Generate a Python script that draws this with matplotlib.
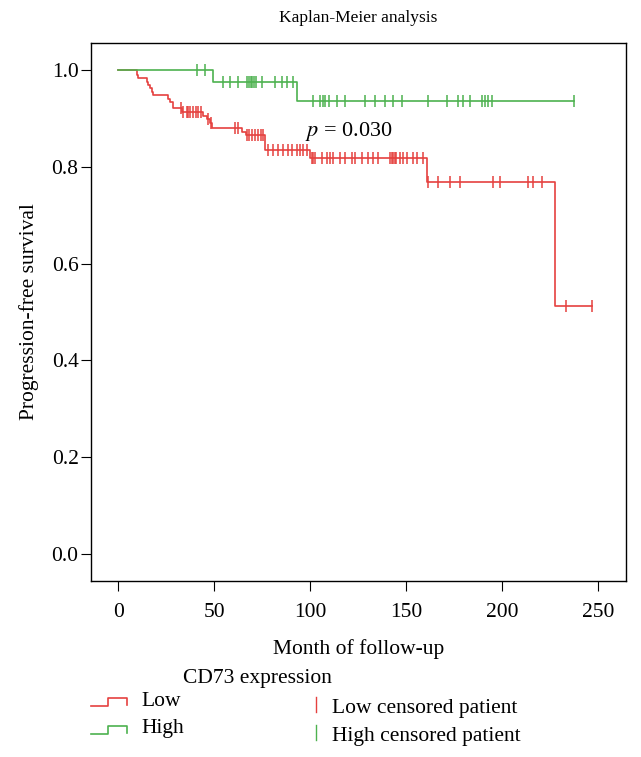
import numpy as np
import matplotlib
matplotlib.use('Agg')
import matplotlib.pyplot as plt
from matplotlib.lines import Line2D

# ── data ────────────────────────────────────────────────────────────────────
# Kaplan-Meier step points (time in months, survival after the step)
low_times = [0, 9.7, 10.5, 14.9, 15.8, 16.7, 17.5, 18.4, 26.2, 27.1, 28.8,
             33.3, 44.4, 46.2, 47.9, 48.8, 64.4, 66.5, 76.6, 100.0, 160.8, 227.6]
low_surv = [1.0, 0.990, 0.983, 0.976, 0.969, 0.962, 0.955, 0.948, 0.941, 0.934,
            0.921, 0.913, 0.906, 0.898, 0.890, 0.880, 0.873, 0.866, 0.835,
            0.818, 0.769, 0.513]
low_end = 247.0
low_censor = [32.6, 34.0, 35.8, 36.6, 37.5, 39.2, 40.6, 41.8, 43.1, 47.0, 48.5,
              60.9, 62.7, 67.0, 68.4, 69.6, 71.4, 73.1, 74.3, 75.7, 78.3, 80.9,
              83.5, 86.1, 88.7, 90.5, 93.1, 94.8, 96.5, 98.3, 100.9, 101.6,
              102.6, 106.0, 108.7, 110.4, 112.2, 115.6, 118.2, 121.7, 123.4,
              127.0, 130.4, 133.0, 135.6, 141.7, 142.5, 143.3, 144.1, 145.0,
              146.9, 148.6, 150.3, 153.8, 155.6, 159.0, 161.6, 166.8, 172.9,
              178.1, 195.5, 199.0, 213.7, 216.3, 220.7, 233.2, 247.0]

high_times = [0, 49.5, 93.0]
high_surv = [1.0, 0.976, 0.937]
high_end = 237.6
high_censor = [41.0, 45.3, 54.9, 58.3, 62.7, 67.0, 68.0, 69.0, 70.0, 71.0, 72.0,
               74.8, 81.8, 85.3, 87.9, 91.3, 101.7, 105.0, 106.5, 108.0, 110.0,
               113.9, 118.2, 128.6, 133.9, 139.0, 143.4, 147.8, 161.6, 171.2,
               177.2, 179.8, 183.3, 189.4, 191.1, 192.9, 194.6, 237.6]

x_ticks = [0, 50, 100, 150, 200, 250]
y_ticks = [0.0, 0.2, 0.4, 0.6, 0.8, 1.0]

RED = '#E5413F'
GREEN = '#4DB24F'

plt.rcParams['font.family'] = ['Liberation Serif', 'DejaVu Serif']
plt.rcParams['mathtext.fontset'] = 'stix'

FS = 15.5


def surv_at(times, surv, t):
    idx = np.searchsorted(times, t, side='right') - 1
    return np.asarray(surv)[idx]


W, H = 641, 757
fig = plt.figure(figsize=(W / 100, H / 100), dpi=100)
ax = fig.add_axes([91 / W, 1 - 581 / H, (626 - 91) / W, (581 - 43) / H])

for times, surv, end, cens, col in [
        (low_times, low_surv, low_end, low_censor, RED),
        (high_times, high_surv, high_end, high_censor, GREEN)]:
    xs = list(times) + [end]
    ys = list(surv) + [surv[-1]]
    ax.step(xs, ys, where='post', color=col, lw=1.2)
    cy = surv_at(times, surv, np.array(cens))
    ax.plot(cens, cy, ls='none', marker='|', ms=8.5, mew=1.1, color=col)

ax.set_xlim(-14.1, 264.6)
ax.set_ylim(-0.056, 1.056)
ax.set_xticks(x_ticks)
ax.set_yticks(y_ticks)
ax.set_yticklabels([f'{v:.1f}' for v in y_ticks])
ax.tick_params(direction='out', length=7, width=0.8, labelsize=FS, pad=2)
ax.tick_params(axis='x', pad=9)
for s in ax.spines.values():
    s.set_linewidth(1.0)

ax.text(97.2, 0.874, r'$p$ = 0.030', fontsize=FS + 0.5, va='center', ha='left')
ax.set_title('Kaplan-Meier analysis', fontsize=12.5, pad=15)
ax.set_xlabel('Month of follow-up', fontsize=FS, labelpad=12)
ax.set_ylabel('Progression-free survival', fontsize=FS, labelpad=9)


# ── legend drawn below in figure pixels ─────────────────────────────────────
def fx(px):
    return px / W


def fy(py):
    return 1 - py / H


fig.text(fx(183), fy(678), 'CD73 expression', fontsize=FS, va='center')
for col, lab, base, cl in [(RED, 'Low', 706, 'Low censored patient'),
                           (GREEN, 'High', 734, 'High censored patient')]:
    fig.add_artist(Line2D([fx(91), fx(108), fx(108), fx(127), fx(127)],
                          [fy(base), fy(base), fy(base - 8), fy(base - 8), fy(base - 1)],
                          color=col, lw=1.2, transform=fig.transFigure))
    fig.text(fx(141), fy(base - 5), lab, fontsize=FS, va='center')
    fig.add_artist(Line2D([fx(316), fx(316)], [fy(base - 9), fy(base + 6)],
                          color=col, lw=1.0, transform=fig.transFigure))
    fig.text(fx(332), fy(base + 2), cl, fontsize=FS, va='center')

fig.savefig('out.png', dpi=100)
